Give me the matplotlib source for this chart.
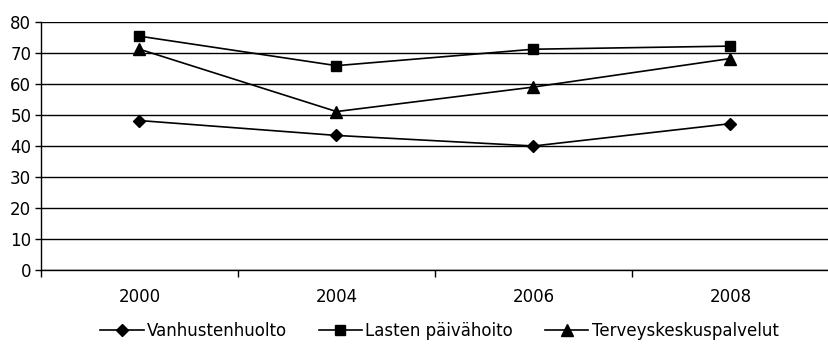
import matplotlib.pyplot as plt
import numpy as np

years = ["2000", "2004", "2006", "2008"]
vanhustenhuolto = [48.2, 43.4, 40.0, 47.2]
lasten_paivahoito = [75.4, 65.9, 71.2, 72.2]
terveyskeskus = [71.2, 51.1, 59.0, 68.2]

plt.rcParams['font.family'] = ['DejaVu Sans']

fig = plt.figure(figsize=(8.29, 3.48), dpi=100)
ax = fig.add_axes([41 / 829, 0.224, 1 - 41 / 829, 0.713])

x = np.arange(len(years))
ax.plot(x, vanhustenhuolto, color='black', lw=1.2, marker='D', ms=6, label='Vanhustenhuolto')
ax.plot(x, lasten_paivahoito, color='black', lw=1.2, marker='s', ms=6.5, label='Lasten päivähoito')
ax.plot(x, terveyskeskus, color='black', lw=1.2, marker='^', ms=8, label='Terveyskeskuspalvelut')

ax.set_ylim(0, 80)
ax.set_yticks(range(0, 81, 10))
ax.set_xlim(-0.5, 3.5)
ax.set_xticks(x)
ax.set_xticklabels(years)
ax.set_xticks([-0.5, 0.5, 1.5, 2.5], minor=True)
ax.tick_params(axis='x', which='major', length=0, pad=13, labelsize=12)
ax.tick_params(axis='x', which='minor', length=5, width=1, direction='out')
ax.tick_params(axis='y', length=4, width=1, direction='out', labelsize=12, pad=3)
ax.yaxis.grid(True, color='black', lw=1)
ax.set_axisbelow(True)
for s in ['top', 'right']:
    ax.spines[s].set_visible(False)
ax.spines['left'].set_linewidth(1)
ax.spines['bottom'].set_linewidth(1)

fig.legend(loc='lower center', bbox_to_anchor=(0.53, -0.02), ncol=3, frameon=False,
           fontsize=12, handlelength=2.6, columnspacing=1.9, handletextpad=0.2)

fig.savefig('out.png', dpi=100)
